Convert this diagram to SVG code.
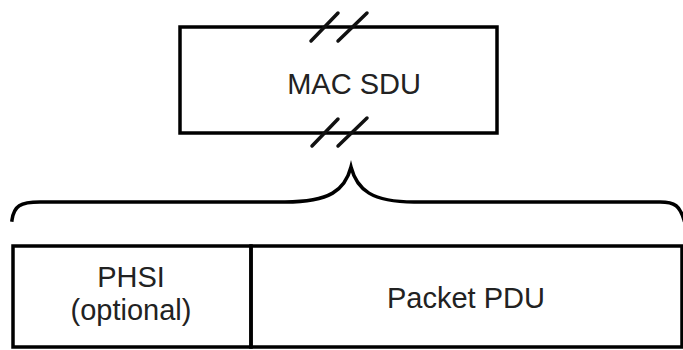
<svg xmlns="http://www.w3.org/2000/svg" width="683" height="350" viewBox="0 0 683 350">
<style>
.ln{fill:none;stroke:#000;stroke-width:3.5;stroke-linecap:square}
.sl{fill:none;stroke:#111;stroke-width:3.5;stroke-linecap:round}
.t{font-family:"Liberation Sans",Arial,sans-serif;font-size:29px;fill:#222;text-anchor:middle}
</style>
<rect width="683" height="350" fill="#fff"/>
<g id="mac-sdu">
<rect class="ln" x="180" y="27" width="317" height="106"/>
<line class="sl" x1="311" y1="41" x2="338" y2="13"/>
<line class="sl" x1="338" y1="41" x2="367" y2="13"/>
<line class="sl" x1="312" y1="146" x2="338" y2="119"/>
<line class="sl" x1="338" y1="146" x2="367" y2="118"/>
<text class="t" x="354" y="94">MAC SDU</text>
</g>
<g id="connectors">
<path class="ln" d="M 12,220 C 14,206 20,202 40,202 L 285,202 C 330,202 345,190 351,167 C 357,190 372,202 414,202 L 660,202 C 675,202 680,206 684,220"/>
</g>
<g id="phsi">
<rect class="ln" x="13" y="246" width="238" height="101"/>
<text class="t" x="131" y="287">PHSI</text>
<text class="t" x="131" y="320">(optional)</text>
</g>
<g id="packet-pdu">
<rect class="ln" x="251" y="246" width="431" height="101"/>
<text class="t" x="466" y="308">Packet PDU</text>
</g>
</svg>
